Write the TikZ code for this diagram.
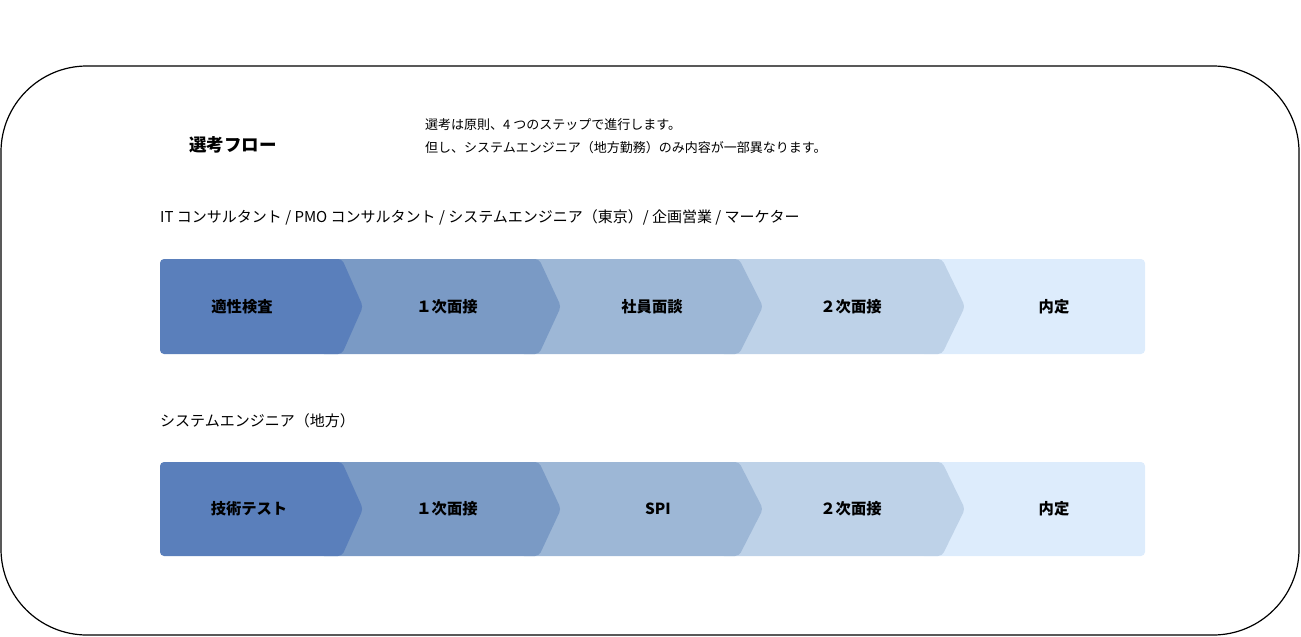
\documentclass[tikz,border=0pt]{standalone}
\usepackage{fontspec}
\setmainfont{Noto Sans CJK JP}
\usepackage{xcolor}
\definecolor{StageA}{HTML}{5A7FBB}
\definecolor{StageB}{HTML}{7A9AC5}
\definecolor{StageC}{HTML}{9DB7D6}
\definecolor{StageD}{HTML}{BED2E8}
\definecolor{StageE}{HTML}{DDECFC}
\tikzstyle{none}=[inner sep=0pt]
\tikzstyle{frame}=[draw=black,line width=1.2pt,rounded corners=86pt]
\tikzstyle{title}=[inner sep=0pt,font=\fontsize{17.5}{19}\selectfont\bfseries]
\tikzstyle{body}=[inner sep=0pt,anchor=west,font=\fontsize{13}{15}\selectfont]
\tikzstyle{heading}=[inner sep=0pt,anchor=west,font=\fontsize{15}{17}\selectfont]
\tikzstyle{stagetext}=[inner sep=0pt,font=\fontsize{15.3}{17}\selectfont\bfseries]
\tikzstyle{stage}=[rounded corners=4pt]
\begin{document}
\begin{tikzpicture}[x=1pt,y=-1pt]
  \useasboundingbox (0,0) rectangle (1301,637);
  \draw [style=frame] (1,66) rectangle (1299,635);
  \node [style=title] (0) at (233,145) {選考フロー};
  \node [style=body] (1) at (425,125) {選考は原則、4 つのステップで進行します。};
  \node [style=body] (2) at (425,148) {但し、システムエンジニア（地方勤務）のみ内容が一部異なります。};
  \node [style=heading] (3) at (160,217) {IT コンサルタント / PMO コンサルタント / システムエンジニア（東京）/ 企画営業 / マーケター};
  \node [style=heading] (4) at (160,421) {システムエンジニア（地方）};
  \fill [style=stage,fill=StageE] (920,259) rectangle (1145,354);
  \fill [style=stage,fill=StageD] (720,259) -- (942,259) -- (965,306.5) -- (942,354) -- (720,354) -- cycle;
  \fill [style=stage,fill=StageC] (520,259) -- (739,259) -- (763,306.5) -- (739,354) -- (520,354) -- cycle;
  \fill [style=stage,fill=StageB] (320,259) -- (539,259) -- (561,306.5) -- (539,354) -- (320,354) -- cycle;
  \fill [style=stage,fill=StageA] (160,259) -- (342,259) -- (363,306.5) -- (342,354) -- (160,354) -- cycle;
  \node [style=stagetext] (5) at (242,306.5) {適性検査};
  \node [style=stagetext] (6) at (447,306.5) {１次面接};
  \node [style=stagetext] (7) at (652,306.5) {社員面談};
  \node [style=stagetext] (8) at (851,306.5) {２次面接};
  \node [style=stagetext] (9) at (1054,306.5) {内定};
  \fill [style=stage,fill=StageE] (920,462) rectangle (1145,556);
  \fill [style=stage,fill=StageD] (720,462) -- (942,462) -- (965,509) -- (942,556) -- (720,556) -- cycle;
  \fill [style=stage,fill=StageC] (520,462) -- (739,462) -- (763,509) -- (739,556) -- (520,556) -- cycle;
  \fill [style=stage,fill=StageB] (320,462) -- (539,462) -- (561,509) -- (539,556) -- (320,556) -- cycle;
  \fill [style=stage,fill=StageA] (160,462) -- (342,462) -- (363,509) -- (342,556) -- (160,556) -- cycle;
  \node [style=stagetext] (10) at (249,509) {技術テスト};
  \node [style=stagetext] (11) at (447,509) {１次面接};
  \node [style=stagetext] (12) at (658,509) {SPI};
  \node [style=stagetext] (13) at (851,509) {２次面接};
  \node [style=stagetext] (14) at (1054,509) {内定};
\end{tikzpicture}
\end{document}
